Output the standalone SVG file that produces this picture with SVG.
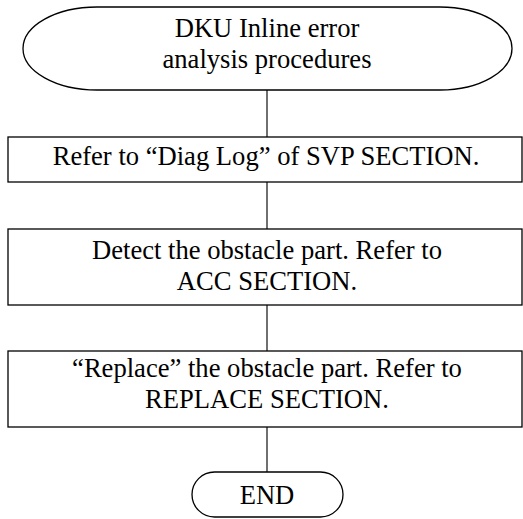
<svg xmlns="http://www.w3.org/2000/svg" width="523" height="519" viewBox="0 0 523 519">
<style>
.s{fill:#fff;stroke:#000;stroke-width:1.3}
.c{fill:none;stroke:#222;stroke-width:1.3}
text{font-family:"Liberation Serif","Times New Roman",serif;font-size:26.6px;fill:#000;text-anchor:middle}
</style>
<rect width="523" height="519" fill="#fff"/>
<g id="connectors">
<line class="c" x1="267" y1="90" x2="267" y2="137"/>
<line class="c" x1="267" y1="182" x2="267" y2="229"/>
<line class="c" x1="267" y1="305" x2="267" y2="351"/>
<line class="c" x1="267" y1="427" x2="267" y2="472"/>
</g>
<g id="start">
<path class="s" d="M97,7 H440 A72,41.5 0 0 1 440,90 H97 A74,41.5 0 0 1 97,7 Z"/>
<text x="267" y="37">DKU Inline error</text>
<text x="267" y="68">analysis procedures</text>
</g>
<g id="step1">
<rect class="s" x="8" y="137" width="514" height="45"/>
<text x="266" y="165">Refer to “Diag Log” of SVP SECTION.</text>
</g>
<g id="step2">
<rect class="s" x="8" y="229" width="514" height="76"/>
<text x="267" y="259">Detect the obstacle part. Refer to</text>
<text x="267" y="290">ACC SECTION.</text>
</g>
<g id="step3">
<rect class="s" x="8" y="351" width="514" height="76"/>
<text x="267" y="377">“Replace” the obstacle part. Refer to</text>
<text x="267" y="408">REPLACE SECTION.</text>
</g>
<g id="end">
<rect class="s" x="192" y="472" width="151" height="45" rx="22.5"/>
<text x="267" y="504">END</text>
</g>
</svg>
